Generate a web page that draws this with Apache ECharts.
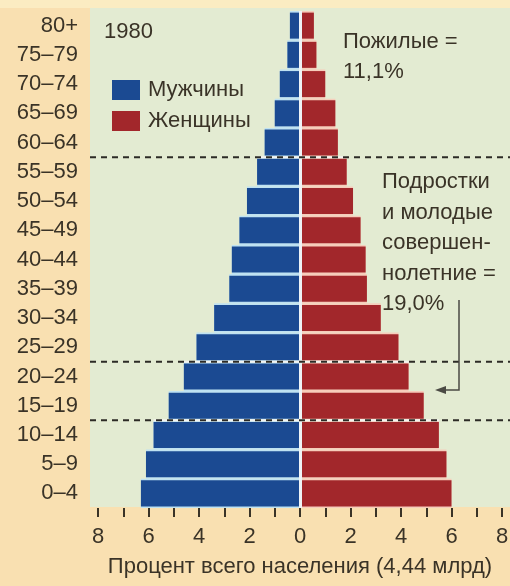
<!DOCTYPE html>
<html>
<head>
<meta charset="utf-8">
<script src="https://cdn.jsdelivr.net/npm/echarts@6/dist/echarts.min.js"></script>
<style>
    html, body { margin: 0; padding: 0; background: #f9e0b1; }
    #chart { width: 510px; height: 586px; }
</style>
</head>
<body>
<div id="chart"></div>
<script>
// возрастные группы снизу вверх
var ageGroups = ['0–4', '5–9', '10–14', '15–19', '20–24', '25–29', '30–34', '35–39', '40–44',
    '45–49', '50–54', '55–59', '60–64', '65–69', '70–74', '75–79', '80+'];
var men   = [6.3, 6.1, 5.8, 5.2, 4.6, 4.1, 3.4, 2.8, 2.7, 2.4, 2.1, 1.7, 1.4, 1.0, 0.8, 0.5, 0.4];
var women = [6.0, 5.8, 5.5, 4.9, 4.3, 3.9, 3.2, 2.65, 2.6, 2.4, 2.1, 1.85, 1.5, 1.4, 1.0, 0.65, 0.55];
var axisMax = 8;
// границы групп: линия под группой с этим индексом
var dividers = [3, 5, 12];
var yearLabel = '1980';
var seriesNames = ['Мужчины', 'Женщины'];
var elderlyNote = ['Пожилые =', '11,1%'];
var youthNote = ['Подростки', 'и молодые', 'совершен-', 'нолетние =', '19,0%'];
var axisTitle = 'Процент всего населения (4,44 млрд)';

var FONT = "'Liberation Sans', Arial, sans-serif";
var FS = 22;
var TXT = '#3a3327';
var BLUE = '#1b4a92', RED = '#a2272b';

var chart = echarts.init(document.getElementById('chart'));

var staticGraphic = [
    {type: 'rect', z: -10, shape: {x: 0, y: 0, width: 510, height: 8}, style: {fill: '#fbecc2'}},
    {type: 'rect', z: -10, shape: {x: 90, y: 8, width: 420, height: 499}, style: {fill: '#e3ebd2'}},
    {type: 'text', left: 104, top: 17, style: {text: yearLabel, font: FS + 'px ' + FONT, lineHeight: 30, fill: TXT}},
    {type: 'text', left: 343, top: 27, style: {text: elderlyNote.join('\n'), font: FS + 'px ' + FONT, lineHeight: 30, fill: TXT}},
    {type: 'text', left: 382, top: 167, style: {text: youthNote.join('\n'), font: FS + 'px ' + FONT, lineHeight: 30.5, fill: TXT}},
    {type: 'polyline', z: 60, shape: {points: [[459, 300], [459, 390], [443, 390]]}, style: {stroke: '#4b4a44', lineWidth: 1.5, fill: null}},
    {type: 'polygon', z: 60, shape: {points: [[435, 390], [446, 386], [446, 394]]}, style: {fill: '#4b4a44'}}
];

var option = {
    backgroundColor: '#f9e0b1',
    animation: false,
    textStyle: {fontFamily: FONT},
    grid: {left: 98, right: 8, top: 11, bottom: 78, outerBoundsMode: 'none', containLabel: false},
    legend: {
        data: seriesNames,
        orient: 'vertical',
        left: 107,
        top: 74,
        itemWidth: 28,
        itemHeight: 20,
        itemGap: 9,
        selectedMode: false,
        icon: 'rect',
        textStyle: {fontSize: FS, color: TXT, fontFamily: FONT, padding: [0, 0, 0, 3]}
    },
    xAxis: {
        type: 'value',
        min: -axisMax,
        max: axisMax,
        interval: 1,
        axisLine: {show: false},
        splitLine: {show: false},
        axisTick: {show: true, length: 9, lineStyle: {color: TXT, width: 2}},
        axisLabel: {
            margin: 18,
            fontSize: FS,
            color: TXT,
            fontFamily: FONT,
            formatter: function (v) {
                return v % 2 ? '' : Math.abs(v);
            }
        },
        name: axisTitle,
        nameLocation: 'middle',
        nameGap: 48,
        nameTextStyle: {fontSize: FS, color: TXT, fontFamily: FONT}
    },
    yAxis: [
        {
            type: 'category',
            data: ageGroups,
            axisLine: {show: false},
            axisTick: {show: false},
            axisLabel: {interval: 0, margin: 20, fontSize: FS, color: TXT, fontFamily: FONT}
        },
        {type: 'category', data: ageGroups, show: false}
    ],
    series: [
        {
            name: 'men-gap',
            type: 'bar',
            yAxisIndex: 1,
            stack: 'gap',
            barCategoryGap: '0%',
            silent: true,
            itemStyle: {color: '#bfe2f2'},
            data: men.map(function (v) { return -v; })
        },
        {
            name: 'women-gap',
            type: 'bar',
            yAxisIndex: 1,
            stack: 'gap',
            barCategoryGap: '0%',
            silent: true,
            itemStyle: {color: '#f6cdbb'},
            data: women
        },
        {
            name: seriesNames[0],
            type: 'bar',
            stack: 'pop',
            barCategoryGap: '11%',
            itemStyle: {color: BLUE},
            data: men.map(function (v) { return -v; }),
            markLine: {
                silent: true,
                symbol: 'none',
                label: {show: false},
                lineStyle: {color: '#eef3f6', width: 3, type: 'solid'},
                data: [{xAxis: 0}]
            }
        },
        {
            name: seriesNames[1],
            type: 'bar',
            stack: 'pop',
            barCategoryGap: '11%',
            itemStyle: {color: RED},
            data: women
        }
    ],
    graphic: staticGraphic
};

chart.setOption(option);

// пунктирные границы групп: положение берём из осей графика
function boundaryY(k) {
    var a = chart.convertToPixel({yAxisIndex: 0}, ageGroups[k - 1]);
    var b = chart.convertToPixel({yAxisIndex: 0}, ageGroups[k]);
    return (a + b) / 2;
}

var lines = [];
dividers.forEach(function (k) {
    var y = boundaryY(k);
    var x1 = chart.convertToPixel({xAxisIndex: 0}, -Math.max(men[k - 1], men[k]));
    var x2 = chart.convertToPixel({xAxisIndex: 0}, Math.max(women[k - 1], women[k]));
    lines.push({type: 'line', z: 50, shape: {x1: x1, y1: y, x2: x2, y2: y},
        style: {stroke: '#f4f4f0', lineWidth: 2}});
    lines.push({type: 'line', z: 51, shape: {x1: 90, y1: y, x2: 510, y2: y},
        style: {stroke: '#2c2b26', lineWidth: 2, lineDash: [6, 5]}});
});

chart.setOption({graphic: staticGraphic.concat(lines)});

window.addEventListener('resize', function () {
    chart.resize();
});
</script>
</body>
</html>
